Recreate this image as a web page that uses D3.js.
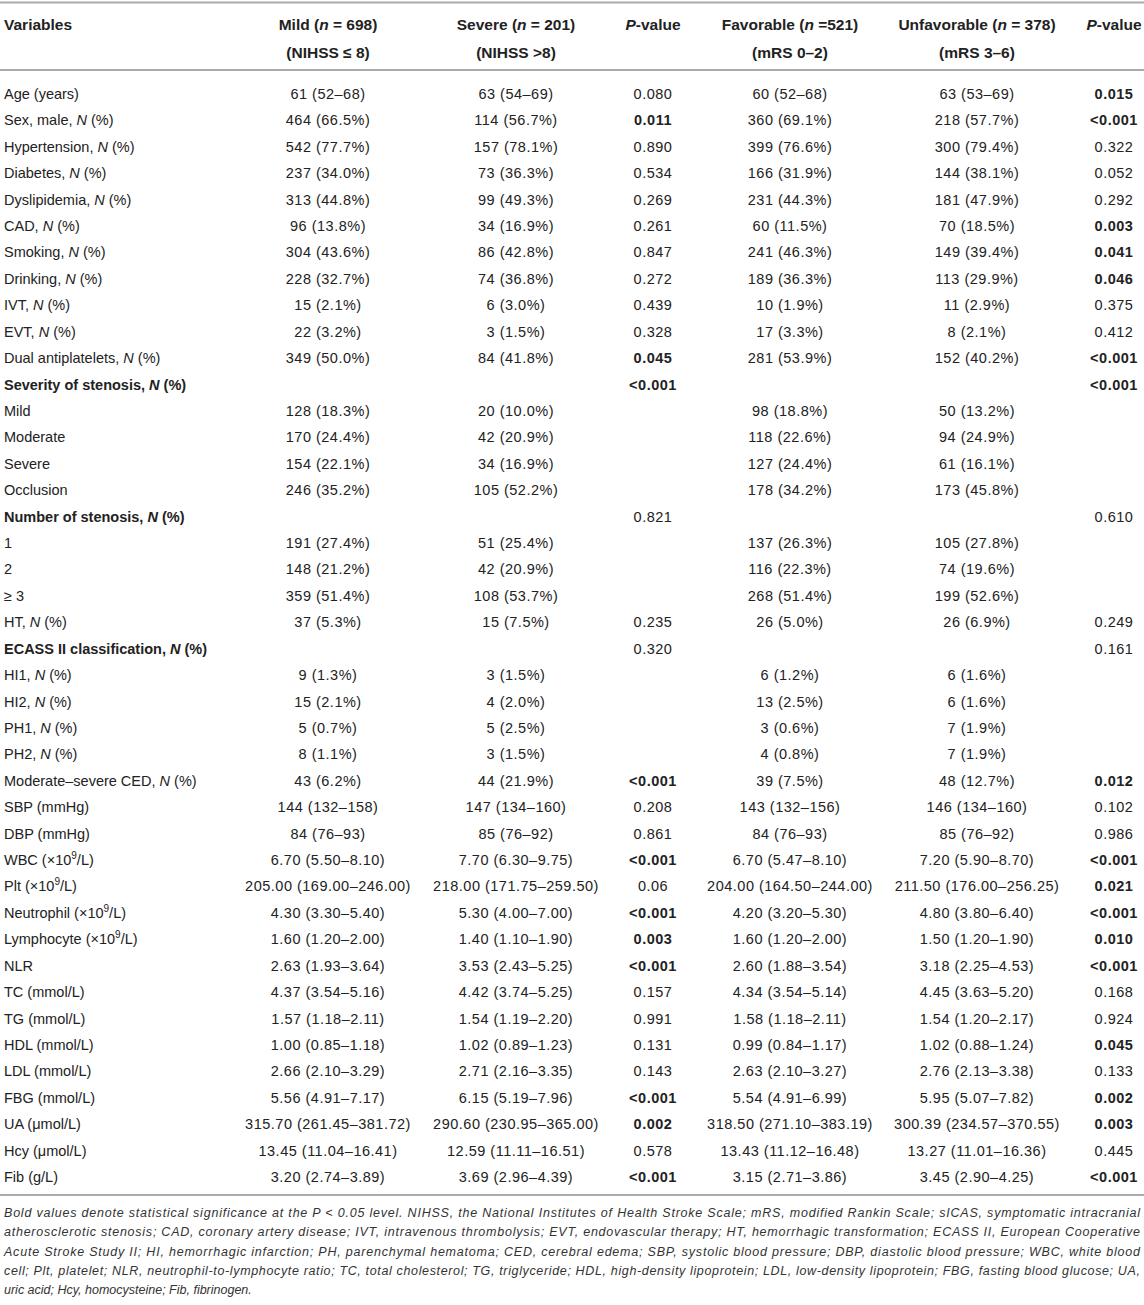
<!DOCTYPE html>
<html>
<head>
    <meta charset="utf-8">
    <script src="https://cdn.jsdelivr.net/npm/d3@7"></script>
    <style>
        * { margin: 0; padding: 0; }
        body { background: #fff; }
        text { font-family: "Liberation Sans", Arial, sans-serif; fill: #222; }
    </style>
</head>
<body>
    <div id="table"></div>
    <script>
        // _x_ = italic, ^x^ = superscript
        var colHeads = ["Variables", "Mild (_n_ = 698)", "Severe (_n_ = 201)", "_P_-value", "Favorable (_n_ =521)", "Unfavorable (_n_ = 378)", "_P_-value"];
        var colSubs = ["", "(NIHSS ≤ 8)", "(NIHSS >8)", "", "(mRS 0–2)", "(mRS 3–6)", ""];

        var variables = ["Age (years)", "Sex, male, _N_ (%)", "Hypertension, _N_ (%)", "Diabetes, _N_ (%)", "Dyslipidemia, _N_ (%)", "CAD, _N_ (%)", "Smoking, _N_ (%)", "Drinking, _N_ (%)", "IVT, _N_ (%)", "EVT, _N_ (%)", "Dual antiplatelets, _N_ (%)", "Severity of stenosis, _N_ (%)", "Mild", "Moderate", "Severe", "Occlusion", "Number of stenosis, _N_ (%)", "1", "2", "≥ 3", "HT, _N_ (%)", "ECASS II classification, _N_ (%)", "HI1, _N_ (%)", "HI2, _N_ (%)", "PH1, _N_ (%)", "PH2, _N_ (%)", "Moderate–severe CED, _N_ (%)", "SBP (mmHg)", "DBP (mmHg)", "WBC (×10^9^/L)", "Plt (×10^9^/L)", "Neutrophil (×10^9^/L)", "Lymphocyte (×10^9^/L)", "NLR", "TC (mmol/L)", "TG (mmol/L)", "HDL (mmol/L)", "LDL (mmol/L)", "FBG (mmol/L)", "UA (μmol/L)", "Hcy (μmol/L)", "Fib (g/L)"];

        var sectionRows = ["Severity of stenosis, _N_ (%)", "Number of stenosis, _N_ (%)", "ECASS II classification, _N_ (%)"];

        var mild = ["61 (52–68)", "464 (66.5%)", "542 (77.7%)", "237 (34.0%)", "313 (44.8%)", "96 (13.8%)", "304 (43.6%)", "228 (32.7%)", "15 (2.1%)", "22 (3.2%)", "349 (50.0%)", "", "128 (18.3%)", "170 (24.4%)", "154 (22.1%)", "246 (35.2%)", "", "191 (27.4%)", "148 (21.2%)", "359 (51.4%)", "37 (5.3%)", "", "9 (1.3%)", "15 (2.1%)", "5 (0.7%)", "8 (1.1%)", "43 (6.2%)", "144 (132–158)", "84 (76–93)", "6.70 (5.50–8.10)", "205.00 (169.00–246.00)", "4.30 (3.30–5.40)", "1.60 (1.20–2.00)", "2.63 (1.93–3.64)", "4.37 (3.54–5.16)", "1.57 (1.18–2.11)", "1.00 (0.85–1.18)", "2.66 (2.10–3.29)", "5.56 (4.91–7.17)", "315.70 (261.45–381.72)", "13.45 (11.04–16.41)", "3.20 (2.74–3.89)"];

        var severe = ["63 (54–69)", "114 (56.7%)", "157 (78.1%)", "73 (36.3%)", "99 (49.3%)", "34 (16.9%)", "86 (42.8%)", "74 (36.8%)", "6 (3.0%)", "3 (1.5%)", "84 (41.8%)", "", "20 (10.0%)", "42 (20.9%)", "34 (16.9%)", "105 (52.2%)", "", "51 (25.4%)", "42 (20.9%)", "108 (53.7%)", "15 (7.5%)", "", "3 (1.5%)", "4 (2.0%)", "5 (2.5%)", "3 (1.5%)", "44 (21.9%)", "147 (134–160)", "85 (76–92)", "7.70 (6.30–9.75)", "218.00 (171.75–259.50)", "5.30 (4.00–7.00)", "1.40 (1.10–1.90)", "3.53 (2.43–5.25)", "4.42 (3.74–5.25)", "1.54 (1.19–2.20)", "1.02 (0.89–1.23)", "2.71 (2.16–3.35)", "6.15 (5.19–7.96)", "290.60 (230.95–365.00)", "12.59 (11.11–16.51)", "3.69 (2.96–4.39)"];

        var pSeverity = ["0.080", "0.011", "0.890", "0.534", "0.269", "0.261", "0.847", "0.272", "0.439", "0.328", "0.045", "<0.001", "", "", "", "", "0.821", "", "", "", "0.235", "0.320", "", "", "", "", "<0.001", "0.208", "0.861", "<0.001", "0.06", "<0.001", "0.003", "<0.001", "0.157", "0.991", "0.131", "0.143", "<0.001", "0.002", "0.578", "<0.001"];

        var favorable = ["60 (52–68)", "360 (69.1%)", "399 (76.6%)", "166 (31.9%)", "231 (44.3%)", "60 (11.5%)", "241 (46.3%)", "189 (36.3%)", "10 (1.9%)", "17 (3.3%)", "281 (53.9%)", "", "98 (18.8%)", "118 (22.6%)", "127 (24.4%)", "178 (34.2%)", "", "137 (26.3%)", "116 (22.3%)", "268 (51.4%)", "26 (5.0%)", "", "6 (1.2%)", "13 (2.5%)", "3 (0.6%)", "4 (0.8%)", "39 (7.5%)", "143 (132–156)", "84 (76–93)", "6.70 (5.47–8.10)", "204.00 (164.50–244.00)", "4.20 (3.20–5.30)", "1.60 (1.20–2.00)", "2.60 (1.88–3.54)", "4.34 (3.54–5.14)", "1.58 (1.18–2.11)", "0.99 (0.84–1.17)", "2.63 (2.10–3.27)", "5.54 (4.91–6.99)", "318.50 (271.10–383.19)", "13.43 (11.12–16.48)", "3.15 (2.71–3.86)"];

        var unfavorable = ["63 (53–69)", "218 (57.7%)", "300 (79.4%)", "144 (38.1%)", "181 (47.9%)", "70 (18.5%)", "149 (39.4%)", "113 (29.9%)", "11 (2.9%)", "8 (2.1%)", "152 (40.2%)", "", "50 (13.2%)", "94 (24.9%)", "61 (16.1%)", "173 (45.8%)", "", "105 (27.8%)", "74 (19.6%)", "199 (52.6%)", "26 (6.9%)", "", "6 (1.6%)", "6 (1.6%)", "7 (1.9%)", "7 (1.9%)", "48 (12.7%)", "146 (134–160)", "85 (76–92)", "7.20 (5.90–8.70)", "211.50 (176.00–256.25)", "4.80 (3.80–6.40)", "1.50 (1.20–1.90)", "3.18 (2.25–4.53)", "4.45 (3.63–5.20)", "1.54 (1.20–2.17)", "1.02 (0.88–1.24)", "2.76 (2.13–3.38)", "5.95 (5.07–7.82)", "300.39 (234.57–370.55)", "13.27 (11.01–16.36)", "3.45 (2.90–4.25)"];

        var pOutcome = ["0.015", "<0.001", "0.322", "0.052", "0.292", "0.003", "0.041", "0.046", "0.375", "0.412", "<0.001", "<0.001", "", "", "", "", "0.610", "", "", "", "0.249", "0.161", "", "", "", "", "0.012", "0.102", "0.986", "<0.001", "0.021", "<0.001", "0.010", "<0.001", "0.168", "0.924", "0.045", "0.133", "0.002", "0.003", "0.445", "<0.001"];

        var footnote = [
            "Bold values denote statistical significance at the _P_ < 0.05 level. NIHSS, the National Institutes of Health Stroke Scale; mRS, modified Rankin Scale; sICAS, symptomatic intracranial",
            "atherosclerotic stenosis; CAD, coronary artery disease; IVT, intravenous thrombolysis; EVT, endovascular therapy; HT, hemorrhagic transformation; ECASS II, European Cooperative",
            "Acute Stroke Study II; HI, hemorrhagic infarction; PH, parenchymal hematoma; CED, cerebral edema; SBP, systolic blood pressure; DBP, diastolic blood pressure; WBC, white blood",
            "cell; Plt, platelet; NLR, neutrophil-to-lymphocyte ratio; TC, total cholesterol; TG, triglyceride; HDL, high-density lipoprotein; LDL, low-density lipoprotein; FBG, fasting blood glucose; UA,",
            "uric acid; Hcy, homocysteine; Fib, fibrinogen."
        ];

        var width = 1144, height = 1305;
        var fontSize = 14.5, headSize = 15.5;
        var columns = [variables, mild, severe, pSeverity, favorable, unfavorable, pOutcome];
        var pCols = [3, 6];

        var svg = d3.select("#table")
            .append("svg")
            .attr("width", width)
            .attr("height", height);

        var xCol = d3.scaleOrdinal()
            .domain(d3.range(7))
            .range([4, 328, 516, 653, 790, 977, 1114]);

        var yRow = d3.scalePoint()
            .domain(d3.range(variables.length))
            .range([94, 1177]);

        // write text with _italic_ and ^sup^ parts as tspans
        function richText(sel, str) {
            var parts = str.split(/(_[^_]+_|\^[^^]+\^)/).filter(function (p) { return p !== ""; });
            var shifted = false;
            parts.forEach(function (p) {
                var t = sel.append("tspan");
                if (shifted) { t.attr("dy", 5); shifted = false; }
                if (p[0] === "_") {
                    t.text(p.slice(1, -1)).style("font-style", "italic");
                } else if (p[0] === "^") {
                    t.text(p.slice(1, -1)).attr("dy", -5).style("font-size", "10px");
                    shifted = true;
                } else {
                    t.text(p);
                }
            });
        }

        function isSig(p) {
            if (p === "") return false;
            if (p[0] === "<") return true;
            return +p < 0.05;
        }

        // rules
        var rules = [2.5, 70, 1195];
        svg.selectAll(".rule")
            .data(rules)
            .enter()
            .append("line")
            .attr("x1", 0)
            .attr("x2", width)
            .attr("y1", d => d)
            .attr("y2", d => d)
            .style("stroke", "#aaa")
            .style("stroke-width", 2);

        // header
        colHeads.forEach(function (h, i) {
            var t = svg.append("text")
                .attr("x", xCol(i))
                .attr("y", 24)
                .attr("dominant-baseline", "central")
                .attr("text-anchor", i === 0 ? "start" : "middle")
                .style("font-size", headSize + "px")
                .style("font-weight", "bold");
            richText(t, h);
            if (colSubs[i]) {
                svg.append("text")
                    .attr("x", xCol(i))
                    .attr("y", 52)
                    .attr("dominant-baseline", "central")
                    .attr("text-anchor", "middle")
                    .style("font-size", headSize + "px")
                    .style("font-weight", "bold")
                    .text(colSubs[i]);
            }
        });

        // body cells
        columns.forEach(function (col, c) {
            var g = svg.append("g");
            col.forEach(function (val, r) {
                if (val === "") return;
                var bold = c === 0 ? sectionRows.indexOf(val) !== -1
                    : (pCols.indexOf(c) !== -1 && isSig(val));
                var t = g.append("text")
                    .attr("x", xCol(c))
                    .attr("y", yRow(r))
                    .attr("dominant-baseline", "central")
                    .attr("text-anchor", c === 0 ? "start" : "middle")
                    .style("font-size", fontSize + "px")
                    .style("letter-spacing", c === 0 ? "0px" : "0.5px")
                    .style("font-weight", bold ? "bold" : "normal");
                richText(t, val);
            });
        });

        // footnote, justified
        footnote.forEach(function (line, i) {
            var t = svg.append("text")
                .attr("x", 4)
                .attr("y", 1213 + i * 19.3)
                .attr("dominant-baseline", "central")
                .style("font-size", "12.5px")
                .style("font-style", "italic")
                .style("fill", "#333");
            if (i < footnote.length - 1) {
                t.attr("textLength", 1136).attr("lengthAdjust", "spacing");
            }
            richText(t, line);
        });
    </script>
</body>
</html>
